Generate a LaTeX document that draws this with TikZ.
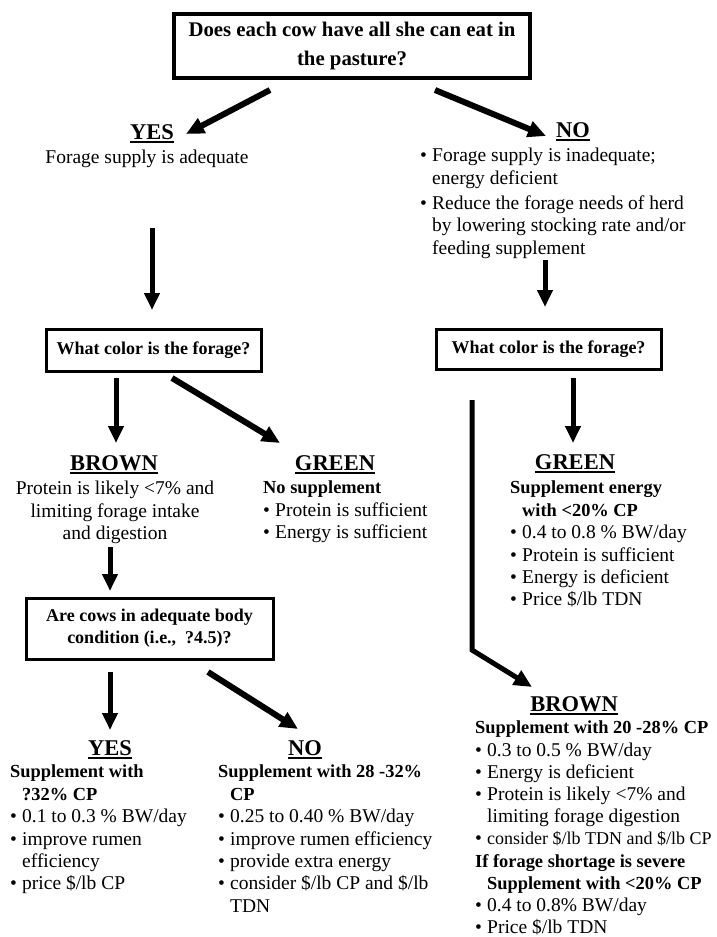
\documentclass[tikz,border=0pt]{standalone}
\usepackage{fontspec}
\setmainfont{Liberation Serif}
\usetikzlibrary{arrows.meta,positioning}
\newcommand{\headul}[1]{\setbox0=\hbox{#1}\rlap{\rule[-3.5pt]{\wd0}{2pt}}\box0}
\newcommand{\bul}{\makebox[12pt][l]{\textbullet}}
\newcommand{\ind}{\hspace*{12pt}}
\newcommand{\bx}[1]{{\bfseries\fontsize{18.4}{22.4}\selectfont #1}}
\tikzset{
	qbox/.style={draw, line width=3pt, inner sep=0pt, align=center,
		font=\bfseries\fontsize{18}{22}\selectfont},
	body/.style={inner sep=0pt, align=left, font=\fontsize{19.5}{22.4}\selectfont},
	head/.style={inner sep=0pt, font=\bfseries\fontsize{22.5}{24}\selectfont},
	flow/.style={line width=5pt, -{Triangle[length=17pt,width=15pt]}},
	slant/.style={line width=6pt, -{Triangle[length=18pt,width=16pt]}},
}

\begin{document}
\begin{tikzpicture}[x=1pt,y=-1pt]
	\useasboundingbox (0,0) rectangle (717,937);

	% question boxes
	\node[qbox, line width=4pt, minimum width=356pt, minimum height=64pt,
		font=\bfseries\fontsize{20.8}{29}\selectfont] (cow) at (352,46)
		{Does each cow have all she can eat in\\the pasture?};
	\node[qbox, minimum width=215pt, minimum height=42pt] (colL) at (153.5,350)
		{What color is the forage?};
	\node[qbox, minimum width=225pt, minimum height=40pt] (colR) at (548.5,349)
		{What color is the forage?};
	\node[qbox, minimum width=247pt, minimum height=61pt] (cond) at (149.5,628.5)
		{Are cows in adequate body\\condition (i.e.,~~?4.5)?};

	% answers
	\node[head, anchor=base] (yes) at (152,139) {\headul{YES}};
	\node[body, anchor=base, align=center] (yesT) at (147,163) {Forage supply is adequate};
	\node[head, anchor=base] (no) at (573,137) {\headul{NO}};
	\node[body, anchor=north west] (noT) at (420,148)
		{\bul Forage supply is inadequate;\\ \ind energy deficient\\[3pt]
		 \bul Reduce the forage needs of herd\\ \ind by lowering stocking rate and/or\\
		 \ind feeding supplement};

	\node[head, anchor=base] (brownL) at (114,470) {\headul{BROWN}};
	\node[body, anchor=north, align=center] (brownLT) at (115,481)
		{Protein is likely <7\% and\\limiting forage intake\\and digestion};
	\node[head, anchor=base] (greenM) at (335,470) {\headul{GREEN}};
	\node[body, anchor=north west] (greenMT) at (263,481)
		{\bx{No supplement}\\ \bul Protein is sufficient\\ \bul Energy is sufficient};
	\node[head, anchor=base] (greenR) at (575,469) {\headul{GREEN}};
	\node[body, anchor=north west] (greenRT) at (510,481)
		{\bx{Supplement energy}\\ \ind\bx{with <20\% CP}\\ \bul 0.4 to 0.8 \% BW/day\\
		 \bul Protein is sufficient\\ \bul Energy is deficient\\ \bul Price \$/lb TDN};

	\node[head, anchor=base] (yesB) at (110,755) {\headul{YES}};
	\node[body, anchor=north west] (yesBT) at (10,765)
		{\bx{Supplement with}\\ \ind\bx{?32\% CP}\\ \bul 0.1 to 0.3 \% BW/day\\
		 \bul improve rumen\\ \ind efficiency\\ \bul price \$/lb CP};
	\node[head, anchor=base] (noB) at (305,755) {\headul{NO}};
	\node[body, anchor=north west] (noBT) at (218,765)
		{\bx{Supplement with 28 -32\%}\\ \ind\bx{CP}\\ \bul 0.25 to 0.40 \% BW/day\\
		 \bul improve rumen efficiency\\ \bul provide extra energy\\
		 \bul consider \$/lb CP and \$/lb\\ \ind TDN};
	\node[head, anchor=base] (brownR) at (574,711) {\headul{BROWN}};
	\node[body, anchor=north west, font=\fontsize{19.5}{22.2}\selectfont] (brownRT) at (475,721)
		{\bx{Supplement with 20 -28\% CP}\\ \bul 0.3 to 0.5 \% BW/day\\
		 \bul Energy is deficient\\ \bul Protein is likely <7\% and\\
		 \ind limiting forage digestion\\
		 \bul{\fontsize{18}{22.2}\selectfont consider \$/lb TDN and \$/lb CP}\\
		 \bx{If forage shortage is severe}\\ \ind\bx{Supplement with <20\% CP}\\
		 \bul 0.4 to 0.8\% BW/day\\ \bul Price \$/lb TDN};

	% arrow ends
	\coordinate (yesS) at (270,90);  \coordinate (yesE) at (186,134);
	\coordinate (noS) at (435,90);   \coordinate (noE) at (546,136);
	\coordinate (colLS) at (152,228); \coordinate (colLE) at (152,310);
	\coordinate (colRS) at (545,260); \coordinate (colRE) at (545,307);
	\coordinate (brLS) at (116,378); \coordinate (brLE) at (116,443);
	\coordinate (grMS) at (172,378); \coordinate (grME) at (280,443);
	\coordinate (grRS) at (573,378); \coordinate (grRE) at (573,443);
	\coordinate (brRS) at (472,400); \coordinate (brRK) at (472,650);
	\coordinate (brRE) at (532,687);
	\coordinate (condS) at (110,547); \coordinate (condE) at (110,591);
	\coordinate (yesBS) at (110,672); \coordinate (yesBE) at (110,730);
	\coordinate (noBS) at (208,672); \coordinate (noBE) at (298,729);

	\draw[slant] (yesS) -- (yesE);
	\draw[slant] (noS) -- (noE);
	\draw[flow] (colLS) -- (colLE);
	\draw[flow] (colRS) -- (colRE);
	\draw[flow] (brLS) -- (brLE);
	\draw[slant] (grMS) -- (grME);
	\draw[flow] (grRS) -- (grRE);
	\draw[slant, line width=5pt, line join=miter] (brRS) -- (brRK) -- (brRE);
	\draw[flow] (condS) -- (condE);
	\draw[flow] (yesBS) -- (yesBE);
	\draw[slant] (noBS) -- (noBE);
\end{tikzpicture}
\end{document}
